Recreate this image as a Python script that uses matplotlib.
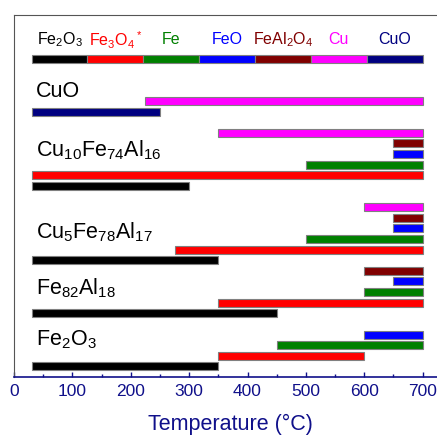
import matplotlib
matplotlib.use("Agg")
import matplotlib.pyplot as plt

plt.rcParams['font.family'] = ['Liberation Sans', 'DejaVu Sans']

# phase colours
phases = ['Fe2O3', 'Fe3O4', 'Fe', 'FeO', 'FeAl2O4', 'Cu', 'CuO']
phase_labels = [r'$\mathregular{Fe_2O_3}$', r'$\mathregular{Fe_3O_4{}^*}$', 'Fe', 'FeO',
                r'$\mathregular{FeAl_2O_4}$', 'Cu', 'CuO']
colors = {'Fe2O3': 'black', 'Fe3O4': 'red', 'Fe': 'green', 'FeO': 'blue',
          'FeAl2O4': '#800000', 'Cu': 'magenta', 'CuO': '#000080'}

# each sample: (row, phase, start T, end T)
fe2o3_bars = [(0, 'Fe2O3', 30, 350), (1, 'Fe3O4', 350, 600),
              (2, 'Fe', 450, 700), (3, 'FeO', 600, 700)]
fe82_bars = [(5, 'Fe2O3', 30, 450), (6, 'Fe3O4', 350, 700), (7, 'Fe', 600, 700),
             (8, 'FeO', 650, 700), (9, 'FeAl2O4', 600, 700)]
cu5_bars = [(10, 'Fe2O3', 30, 350), (11, 'Fe3O4', 275, 700), (12, 'Fe', 500, 700),
            (13, 'FeO', 650, 700), (14, 'FeAl2O4', 650, 700), (15, 'Cu', 600, 700)]
cu10_bars = [(17, 'Fe2O3', 30, 300), (18, 'Fe3O4', 30, 700), (19, 'Fe', 500, 700),
             (20, 'FeO', 650, 700), (21, 'FeAl2O4', 650, 700), (22, 'Cu', 350, 700)]
cuo_bars = [(24, 'CuO', 30, 250), (25, 'Cu', 225, 700)]

samples = [(r'$\mathregular{Fe_2O_3}$', 2.5), (r'$\mathregular{Fe_{82}Al_{18}}$', 7.4),
           (r'$\mathregular{Cu_5Fe_{78}Al_{17}}$', 12.6),
           (r'$\mathregular{Cu_{10}Fe_{74}Al_{16}}$', 20.4), ('CuO', 25.9)]

legend_row = 29
legend_start, legend_end = 30, 700

fig = plt.figure(figsize=(4.37, 4.40), dpi=100)
ax = fig.add_axes([14 / 437, 63 / 440, 740 * 0.5838 / 437, 362 / 440])

h = 0.75
for bars in [fe2o3_bars, fe82_bars, cu5_bars, cu10_bars, cuo_bars]:
    for row, ph, t0, t1 in bars:
        ax.barh(row, t1 - t0, left=t0, height=h, color=colors[ph],
                edgecolor='#808080', linewidth=0.8)

for label, y in samples:
    ax.text(37, y, label, fontsize=15.5, va='center', ha='left')

# legend strip
seg = (legend_end - legend_start) / len(phases)
for i, ph in enumerate(phases):
    left = legend_start + i * seg
    ax.barh(legend_row, seg, left=left, height=h, color=colors[ph],
            edgecolor='#808080', linewidth=0.8)
    ax.text(left + seg / 2, legend_row + 1.75, phase_labels[i], fontsize=11.5,
            color=colors[ph], ha='center', va='center')

ax.set_xlim(0, 740)
ax.set_ylim(-1, 33.1)
ax.set_yticks([])
ax.set_xticks(range(0, 701, 100))
ax.set_xticks(range(50, 701, 100), minor=True)
ax.tick_params(axis='x', which='major', direction='in', length=3.3, width=1,
               colors='#10108a', labelsize=12.5, pad=5)
ax.tick_params(axis='x', which='minor', direction='in', length=2, width=1,
               colors='#10108a')
ax.spines['bottom'].set_color('#10108a')
ax.spines['bottom'].set_linewidth(1.2)
for s in ['left', 'top', 'right']:
    ax.spines[s].set_color('#555555')
ax.set_xlabel('Temperature (°C)', fontsize=15.5, color='#10108a', labelpad=11)

fig.savefig('out.png', dpi=100)
